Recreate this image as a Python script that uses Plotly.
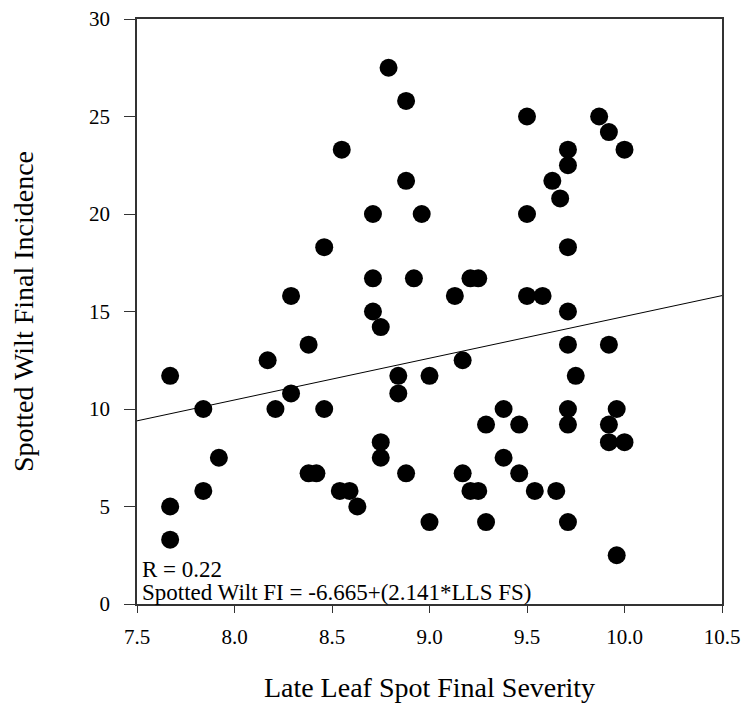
import plotly.graph_objects as go

# Late Leaf Spot final severity (x) and Spotted Wilt final incidence (y)
lls_fs = [
    8.79, 8.88, 8.55, 8.88, 8.71, 8.96, 8.46, 8.71, 8.92, 8.29, 8.71,
    9.50, 9.87, 9.92, 10.00, 9.71, 9.71, 9.63, 9.67, 9.50, 9.71,
    9.13, 9.21, 9.25, 9.50, 9.58, 9.71,
    8.75, 8.38, 8.17, 7.67, 8.84, 8.84, 8.29, 7.84, 8.21, 8.46,
    8.75, 8.75, 7.92, 8.88, 8.38, 8.42, 7.84, 8.54, 8.59, 8.63, 7.67, 7.67,
    9.71, 9.92, 9.17, 9.75, 9.00, 9.38, 9.71, 9.96,
    9.29, 9.46, 9.71, 9.92, 9.92, 10.00, 9.38,
    9.17, 9.46, 9.21, 9.25, 9.54, 9.65,
    9.00, 9.29, 9.71, 9.96,
]
sw_fi = [
    27.5, 25.8, 23.3, 21.7, 20.0, 20.0, 18.3, 16.7, 16.7, 15.8, 15.0,
    25.0, 25.0, 24.2, 23.3, 23.3, 22.5, 21.7, 20.8, 20.0, 18.3,
    15.8, 16.7, 16.7, 15.8, 15.8, 15.0,
    14.2, 13.3, 12.5, 11.7, 11.7, 10.8, 10.8, 10.0, 10.0, 10.0,
    8.3, 7.5, 7.5, 6.7, 6.7, 6.7, 5.8, 5.8, 5.8, 5.0, 5.0, 3.3,
    13.3, 13.3, 12.5, 11.7, 11.7, 10.0, 10.0, 10.0,
    9.2, 9.2, 9.2, 9.2, 8.3, 8.3, 7.5,
    6.7, 6.7, 5.8, 5.8, 5.8, 5.8,
    4.2, 4.2, 4.2, 2.5,
]

# Regression: Spotted Wilt FI = intercept + slope * LLS FS
intercept = -6.665
slope = 2.141
fit_x = [7.5, 10.5]
fit_y = [intercept + slope * v for v in fit_x]

x_ticks = [7.5, 8.0, 8.5, 9.0, 9.5, 10.0, 10.5]
y_ticks = [0, 5, 10, 15, 20, 25, 30]

FONT = "Liberation Serif, Times New Roman, serif"

fig = go.Figure()
fig.add_trace(go.Scatter(
    x=fit_x, y=fit_y, mode="lines",
    line=dict(color="black", width=1), showlegend=False, hoverinfo="skip",
))
fig.add_trace(go.Scatter(
    x=lls_fs, y=sw_fi, mode="markers",
    marker=dict(color="black", size=18, line=dict(width=0)),
    showlegend=False,
))

fig.add_annotation(x=7.5, y=1.75, xref="x", yref="y", xanchor="left", yanchor="middle",
                   xshift=3, showarrow=False, text="R = 0.22",
                   font=dict(family=FONT, size=23, color="black"))
fig.add_annotation(x=7.5, y=0.57, xref="x", yref="y", xanchor="left", yanchor="middle",
                   xshift=3, showarrow=False, text="Spotted Wilt FI = -6.665+(2.141*LLS FS)",
                   font=dict(family=FONT, size=23, color="black"))

fig.update_layout(
    width=746, height=706,
    margin=dict(l=137, r=24, t=19, b=102),
    paper_bgcolor="white", plot_bgcolor="white",
    font=dict(family=FONT, color="black"),
    xaxis=dict(
        range=[7.5, 10.5], tickvals=x_ticks, ticktext=[f"{v:.1f}" for v in x_ticks],
        automargin=False,
        showgrid=False, zeroline=False, showline=True, linecolor="#333", linewidth=1.5,
        mirror=True, ticks="outside", ticklen=7, tickcolor="#333",
        ticklabelstandoff=6,
        tickfont=dict(family=FONT, size=21),
        title=dict(text="Late Leaf Spot Final Severity", font=dict(family=FONT, size=28), standoff=29),
    ),
    yaxis=dict(
        range=[0, 30], tickvals=y_ticks,
        automargin=False,
        showgrid=False, zeroline=False, showline=True, linecolor="#333", linewidth=1.5,
        mirror=True, ticks="outside", ticklen=11, tickcolor="#333",
        ticklabelstandoff=10,
        tickfont=dict(family=FONT, size=21),
        title=dict(text="Spotted Wilt Final Incidence", font=dict(family=FONT, size=28), standoff=47),
    ),
)

fig.write_html("out.html")
